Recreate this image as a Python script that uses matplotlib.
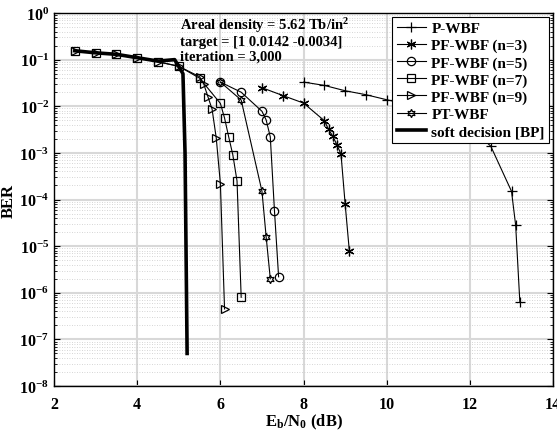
import numpy as np
import matplotlib
matplotlib.use("Agg")
import matplotlib.pyplot as plt
from matplotlib.ticker import LogLocator, NullFormatter

# ===== datos =====
x_low = [2.5, 3.0, 3.5, 4.0, 4.5, 5.0, 5.5]
y_low = [0.153, 0.139, 0.13, 0.108, 0.09, 0.072, 0.042]

x_pwbf = [8.0, 8.5, 9.0, 9.5, 10.0, 10.5, 11.0, 11.5, 12.0, 12.5, 13.0, 13.1, 13.2]
y_pwbf = [0.033, 0.028, 0.0215, 0.0177, 0.0138, 0.011, 0.0085, 0.006, 0.0035, 0.0014, 1.5e-4, 2.8e-5, 6.4e-7]

x_n3 = [7.0, 7.5, 8.0, 8.5, 8.6, 8.7, 8.8, 8.9, 9.0, 9.1]
y_n3 = [0.025, 0.017, 0.0117, 0.0049, 0.0032, 0.0023, 0.0015, 9.4e-4, 8e-5, 8e-6]

x_n5 = [6.0, 6.5, 7.0, 7.1, 7.2, 7.3, 7.4]
y_n5 = [0.033, 0.02, 0.0078, 0.0051, 0.0022, 5.8e-5, 2.2e-6]

x_n7 = x_low + [6.0, 6.1, 6.2, 6.3, 6.4, 6.5]
y_n7 = y_low[:-1] + [0.04, 0.0115, 0.0056, 0.0022, 9e-4, 2.5e-4, 8e-7]

x_n9 = x_low + [5.6, 5.7, 5.8, 5.9, 6.0, 6.1]
y_n9 = y_low[:-1] + [0.043, 0.03, 0.016, 0.0087, 0.0021, 2.2e-4, 4.5e-7]

x_pt = [6.0, 6.5, 7.0, 7.1, 7.2]
y_pt = [0.033, 0.0136, 1.5e-4, 1.6e-5, 2e-6]

x_soft = [2.5, 3.0, 3.5, 4.0, 4.5, 4.9, 5.1, 5.15, 5.2]
y_soft = [0.155, 0.14, 0.13, 0.11, 0.093, 0.1, 0.05, 1e-3, 5e-8]

x_ticks = [2, 4, 6, 8, 10, 12, 14]
y_exps = [0, -1, -2, -3, -4, -5, -6, -7, -8]

# ===== estilo =====
plt.rcParams["font.family"] = ["Liberation Serif", "DejaVu Serif"]
plt.rcParams["font.weight"] = "bold"
plt.rcParams["mathtext.fontset"] = "custom"
plt.rcParams["mathtext.rm"] = "Liberation Serif:bold"
plt.rcParams["mathtext.it"] = "Liberation Serif:bold"
plt.rcParams["mathtext.bf"] = "Liberation Serif:bold"

fig = plt.figure(figsize=(5.57, 4.31), dpi=100)
ax = fig.add_axes([0.097, 0.102, 0.896, 0.8655])

lw = 0.8
ms = 6
ax.semilogy(x_pwbf, y_pwbf, "k-", marker="+", ms=7, lw=lw, mew=0.9, label="P-WBF")
ax.semilogy(x_n3, y_n3, "k-", marker=(6, 2, 0), ms=7, lw=lw, mew=0.9, label="PF-WBF (n=3)")
ax.semilogy(x_n5, y_n5, "k-", marker="o", ms=ms, mfc="none", lw=lw, mew=0.9, label="PF-WBF (n=5)")
ax.semilogy(x_n7, y_n7, "k-", marker="s", ms=5.5, mfc="none", lw=lw, mew=0.9, label="PF-WBF (n=7)")
ax.semilogy(x_n9, y_n9, "k-", marker=">", ms=ms, mfc="none", lw=lw, mew=0.9, label="PF-WBF (n=9)")
ax.semilogy(x_pt, y_pt, "k-", marker=(6, 1, 0), ms=ms, mfc="none", lw=lw, mew=0.9, label="PT-WBF")
ax.semilogy(x_soft, y_soft, "k-", lw=2.6, label="soft decision [BP]")

ax.set_xlim(2, 14)
ax.set_ylim(1e-8, 1)
ax.set_xticks(x_ticks)
ax.set_xticklabels([str(t) for t in x_ticks], fontsize=11.5, fontweight="bold")
ax.set_yticks([10.0 ** e for e in y_exps])
ax.set_yticklabels([r"$\mathbf{10^{%d}}$" % e for e in y_exps], fontsize=11.5)
ax.yaxis.set_minor_locator(LogLocator(base=10, subs=np.arange(2, 10), numticks=20))
ax.yaxis.set_minor_formatter(NullFormatter())
ax.tick_params(which="both", direction="in", right=True, top=False)
ax.tick_params(which="major", length=4)
ax.tick_params(axis="x", which="major", pad=7)
ax.tick_params(which="minor", length=2)

ax.grid(True, which="major", color="#d8d8d8", lw=1.5)
ax.grid(True, which="minor", axis="y", color="#c8c8c8", lw=0.6, ls=(0, (1, 2)))
ax.set_axisbelow(True)
for s in ax.spines.values():
    s.set_linewidth(1.0)

ax.set_xlabel(r"E$_\mathregular{b}$/N$_\mathregular{0}$ (dB)", fontsize=12, fontweight="bold", labelpad=0)
ax.set_ylabel("BER", fontsize=12, fontweight="bold", labelpad=2)

ax.text(0.252, 0.995, "Areal density = 5.62 Tb/in$^2$\ntarget = [1 0.0142 -0.0034]\niteration = 3,000",
        transform=ax.transAxes, va="top", ha="left", fontsize=10.5, fontweight="bold", linespacing=1.15)

leg = ax.legend(loc="upper right", fontsize=11, frameon=True, fancybox=False, edgecolor="k",
                framealpha=1, borderaxespad=0.25, handlelength=1.9, labelspacing=0.22,
                borderpad=0.3, handletextpad=0.35)
leg.get_frame().set_linewidth(0.8)
for t in leg.get_texts():
    t.set_fontweight("bold")

fig.savefig("out.png", dpi=100)
